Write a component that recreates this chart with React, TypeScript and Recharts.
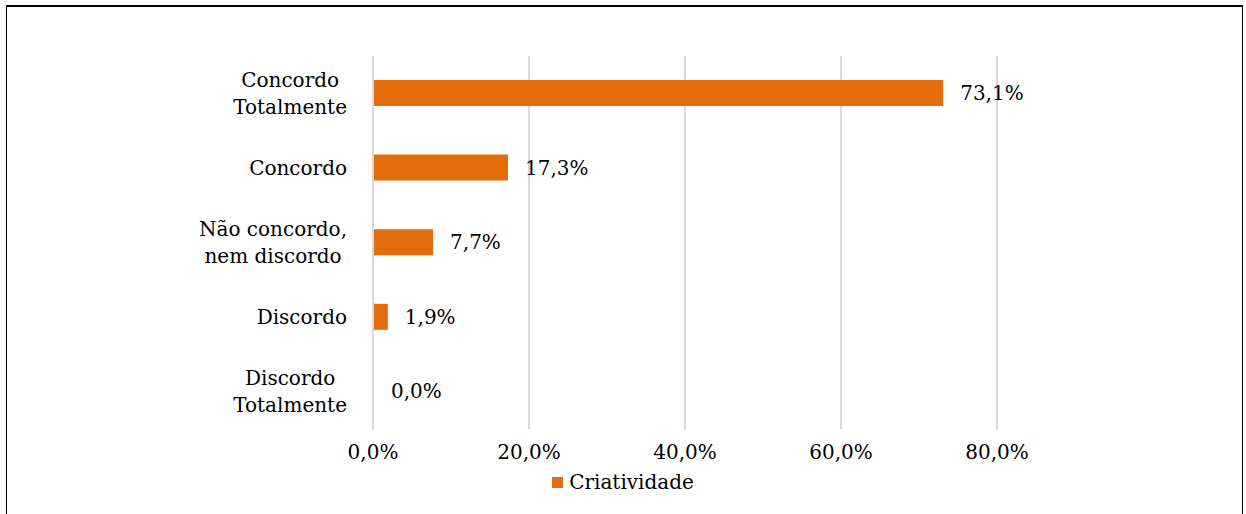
import React from 'react'
import {
  BarChart,
  Bar,
  Cell,
  XAxis,
  YAxis,
  CartesianGrid,
  Legend,
  LabelList,
} from 'recharts'

const categories = [
  'Concordo\nTotalmente',
  'Concordo',
  'Não concordo,\nnem discordo',
  'Discordo',
  'Discordo\nTotalmente',
]
const values = [73.1, 17.3, 7.7, 1.9, 0.0]
const xTicks = [0, 20, 40, 60, 80]
const seriesName = 'Criatividade'

const ORANGE = '#E46C0A'
const FONT = 'DejaVu Serif'
const FS = 20

const data = categories.map((c, i) => ({ cat: c, value: values[i] }))

const fmt = (v: number) => `${v.toFixed(1).replace('.', ',')}%`

let ctx: CanvasRenderingContext2D | null = null
const measure = (s: string) => {
  if (!ctx) ctx = document.createElement('canvas').getContext('2d')
  if (!ctx) return s.length * 11
  ctx.font = `${FS}px "${FONT}"`
  return ctx.measureText(s).width
}

const CategoryTick = (props: any) => {
  const { x, y, payload } = props
  const lines: string[] = String(payload.value).split('\n')
  const maxW = Math.max(...lines.map(measure))
  const cx = x - maxW / 2
  const lh = 27
  const first = -((lines.length - 1) * lh) / 2
  return (
    <text x={cx} y={y} textAnchor="middle" style={{ fontFamily: FONT }} fontSize={FS} fill="#000">
      {lines.map((l, i) => (
        <tspan key={i} x={cx} y={y + first + i * lh} dy="0.35em">{l}</tspan>
      ))}
    </text>
  )
}

const ValueLabel = (props: any) => {
  const { x, y, width, height, value } = props
  return (
    <text x={Number(x) + Number(width) + 17} y={Number(y) + Number(height) / 2} dy="0.35em" style={{ fontFamily: FONT }} fontSize={FS} fill="#000">
      {fmt(Number(value))}
    </text>
  )
}

const LegendContent = () => (
  <div style={{ display: 'flex', justifyContent: 'center', alignItems: 'center', fontFamily: FONT, fontSize: FS, color: '#000' }}>
    <span style={{ display: 'inline-block', width: 11, height: 11, background: ORANGE, marginRight: 6 }} />
    <span>{seriesName}</span>
  </div>
)

export default function App() {
  return (
    <div style={{ position: 'fixed', left: 0, top: 0, width: 1246, height: 514, background: '#fff', overflow: 'hidden', fontFamily: FONT }}>
      <div style={{ position: 'absolute', left: 6, top: 5, width: 1235, height: 530, borderTop: '2px solid #000', borderLeft: '1.5px solid #000', borderRight: '1.5px solid #000' }} />
      <BarChart
        width={1246}
        height={514}
        data={data}
        layout="vertical"
        margin={{ top: 56, right: 249, left: 0, bottom: 21 }}
        barCategoryGap={0}
        style={{ position: 'absolute', left: 0, top: 0 }}
      >
        <CartesianGrid horizontal={false} stroke="#D9D9D9" strokeWidth={2} />
        <XAxis
          type="number"
          domain={[0, 80]}
          ticks={xTicks}
          tickFormatter={fmt}
          axisLine={false}
          tickLine={false}
          tickMargin={10}
          height={40}
          tick={{ style: { fontFamily: FONT }, fontSize: FS, fill: '#000' }}
        />
        <YAxis
          type="category"
          dataKey="cat"
          width={373}
          axisLine={{ stroke: '#D9D9D9', strokeWidth: 2 }}
          tickLine={false}
          tickMargin={20}
          tick={<CategoryTick />}
        />
        <Legend verticalAlign="bottom" content={<LegendContent />} wrapperStyle={{ top: 470, left: 0, width: 1246 }} />
        <Bar dataKey="value" name={seriesName} fill={ORANGE} barSize={26} minPointSize={1} isAnimationActive={false}>
          {data.map((d, i) => (
            <Cell key={i} fill={d.value === 0 ? 'transparent' : ORANGE} />
          ))}
          <LabelList dataKey="value" content={<ValueLabel />} />
        </Bar>
      </BarChart>
    </div>
  )
}
